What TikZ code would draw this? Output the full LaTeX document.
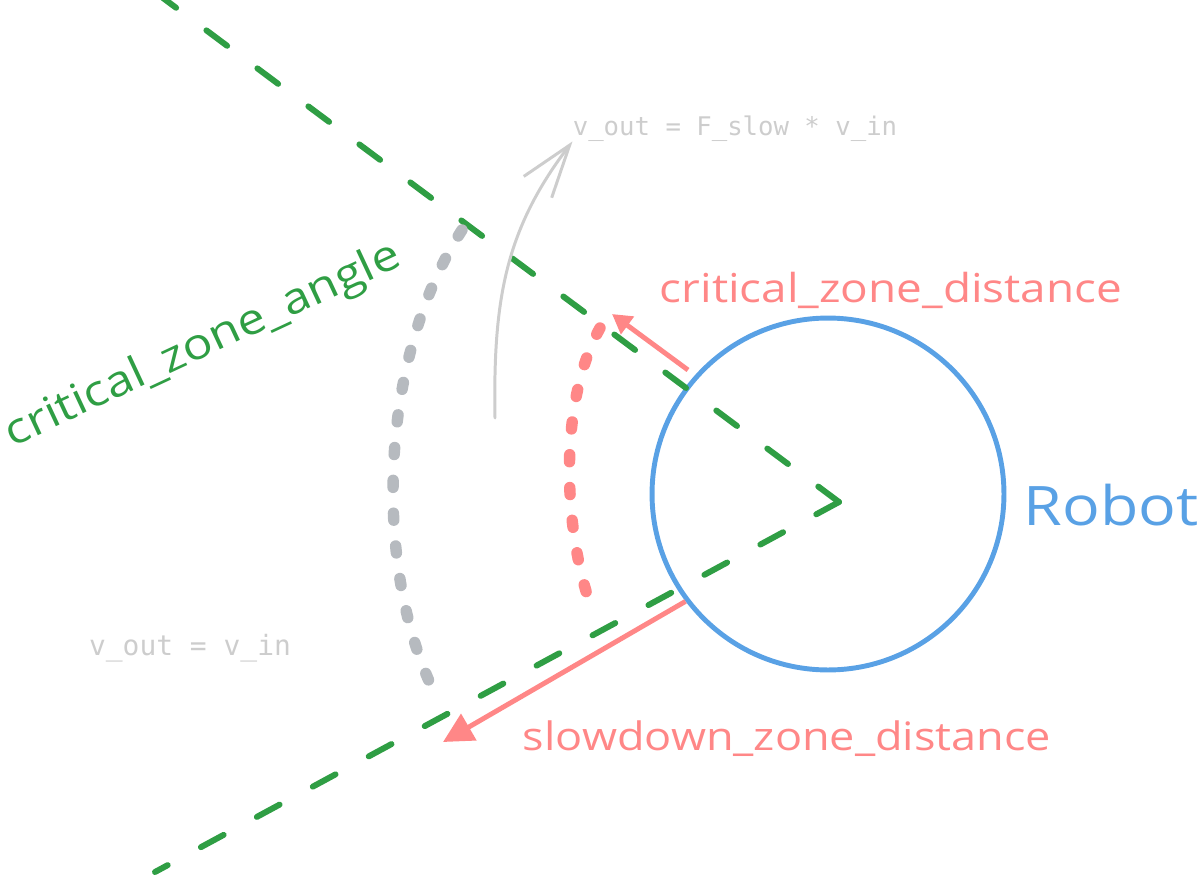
\documentclass[tikz,border=0pt]{standalone}
\usepackage{fontspec}
\usepackage{tikz}
\usetikzlibrary{arrows.meta}
\newfontfamily\handfont[FakeStretch=1.15]{Open Sans}
\newfontfamily\codefont{DejaVu Sans Mono}
\definecolor{zonegreen}{HTML}{2F9E44}
\definecolor{zonered}{HTML}{FF8787}
\definecolor{robotblue}{HTML}{59A1E5}
\definecolor{dotgrey}{HTML}{B6BABF}
\definecolor{codegrey}{HTML}{CDCDCD}

\begin{document}
\begin{tikzpicture}[x=0.02cm,y=-0.02cm,
    zoneline/.style={zonegreen,line width=3.4pt,line cap=round,dash pattern=on 14.7pt off 21.5pt},
    dotarc/.style={line width=6.5pt,line cap=round,dash pattern=on 4pt off 14.7pt},
    hand/.style={inner sep=0pt,anchor=base,font=\handfont\fontsize{22.7}{26}\selectfont},
    code/.style={inner sep=0pt,anchor=base,text=codegrey}]
  \useasboundingbox (0,0) rectangle (1200,875);

  \node[circle,draw=robotblue,line width=2.8pt,inner sep=0pt,minimum size=7.04cm] (robot) at (828,494) {};
  \node[hand,text=robotblue,font=\handfont\fontsize{31}{36}\selectfont] (robotlabel) at (1111,525) {Robot};

  \coordinate (apex) at (839,502);
  \coordinate (upperend) at (163,-2);
  \coordinate (lowerend) at (155,872);
  \draw[zoneline] (apex) -- (upperend);
  \draw[zoneline] (apex) -- (lowerend);

  % zone borders
  \draw[dotarc,zonered] (600,328) .. controls (560,400) and (562,520) .. (590,604);
  \draw[dotarc,dotgrey] (462,230) .. controls (378,360) and (372,570) .. (437,698);

  \coordinate (critstart) at (688,370);
  \coordinate (crittip) at (612,314);
  \coordinate (slowtip) at (443,742);
  \draw[zonered,line width=2.8pt,-{Triangle[length=11pt,width=12pt]}] (critstart) -- (crittip);
  \draw[zonered,line width=2.8pt,-{Triangle[length=17pt,width=17pt]}] (robot.217) -- (slowtip);

  \node[hand,text=zonered] (critlabel) at (891,302) {critical\_zone\_distance};
  \node[hand,text=zonered,font=\handfont\fontsize{22.3}{26}\selectfont] (slowlabel) at (787,750) {slowdown\_zone\_distance};
  \node[hand,text=zonegreen,rotate=25,font=\handfont\fontsize{24.5}{29}\selectfont] (anglelabel) at (208,356) {critical\_zone\_angle};

  \node[code,font=\codefont\fontsize{14.6}{17}\selectfont] (slowformula) at (735,135) {v\_out = F\_slow * v\_in};
  \node[code,font=\codefont\fontsize{15.9}{18}\selectfont] (freeformula) at (190,655) {v\_out = v\_in};

  \coordinate (gradstart) at (495,418);
  \draw[codegrey,line width=1.7pt,line cap=round,-{Straight Barb[length=30pt,width=20pt,line width=1.7pt]}]
    (gradstart) .. controls (493,300) and (505,230) .. (slowformula.south west);
\end{tikzpicture}
\end{document}
